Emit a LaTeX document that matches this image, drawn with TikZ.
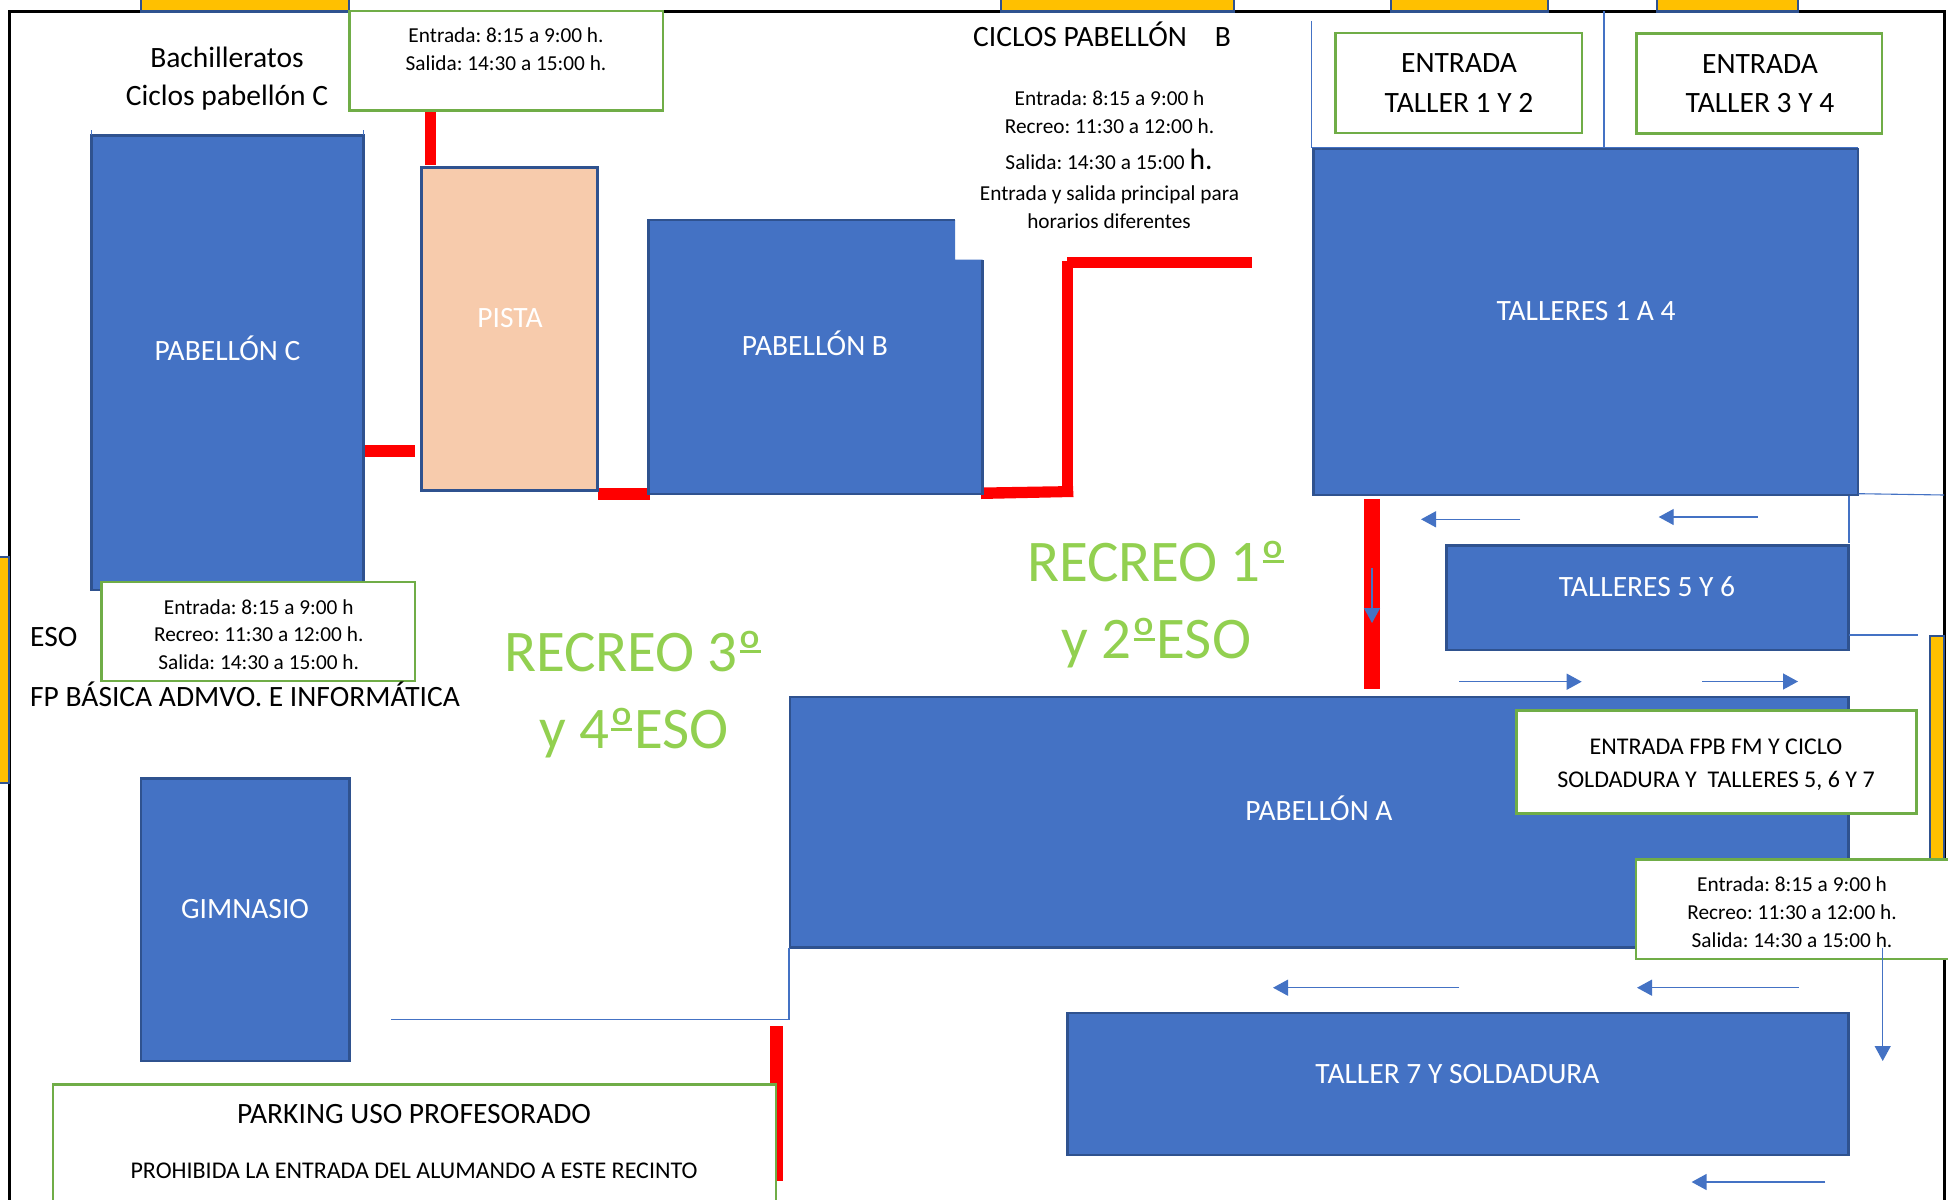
\documentclass[tikz,border=0pt]{standalone}
\usepackage{fontspec}
\setmainfont{Carlito}
\frenchspacing
\usetikzlibrary{arrows.meta}
\definecolor{bfill}{HTML}{4472C4}
\definecolor{bline}{HTML}{2F528F}
\definecolor{gline}{HTML}{70AD47}
\definecolor{gtext}{HTML}{92D050}
\definecolor{gatey}{HTML}{FFC000}
\definecolor{pist}{HTML}{F7CBAC}
\newcommand{\ordu}{\rlap{\kern0.03em\rule[0.30em]{0.36em}{0.05em}}º}
\tikzset{
  tx/.style={inner sep=0pt,anchor=base,font=\fontsize{#1}{#1}\selectfont},
  wt/.style={tx=#1,text=white},
  rc/.style={tx=59,text=gtext},
  bld/.style={fill=bfill,draw=bline,line width=2.2pt},
  pst/.style={fill=pist,draw=bline,line width=2.2pt},
  gate/.style={fill=gatey,draw=bline,line width=2.2pt},
  grn/.style={fill=white,draw=gline,line width=2.8pt},
  red/.style={fill=red,draw=none},
  thin/.style={draw=bfill,line width=1.1pt},
  arw/.style={draw=bfill,fill=bfill,line width=1.3pt,-{Triangle[length=15pt,width=16pt]}}
}
\begin{document}
\begin{tikzpicture}[x=1pt,y=-1pt]
\clip (0,0) rectangle (1948,1199);
\fill[white] (0,0) rectangle (1948,1199);
% frame
\draw[black,line width=3pt] (9,1230) -- (9,11.5) -- (1944.6,11.5) -- (1944.6,1230);
% gates
\draw[gate] (141,-5) rectangle (349,11.5);
\draw[gate] (1001,-5) rectangle (1234,11.5);
\draw[gate] (1391,-5) rectangle (1548,11.5);
\draw[gate] (1657,-5) rectangle (1798,11.5);
\draw[gate] (-5,557) rectangle (9,783);
\draw[gate] (1930,636) rectangle (1944,870);
% red paths
\fill[red] (424.5,105) rectangle (436,165);
\fill[red] (363,445) rectangle (415,457);
\fill[red] (598,488) rectangle (650,500);
\fill[red] (981,487.5) -- (1073,486) -- (1073.5,497) -- (981,499) -- cycle;
\fill[red] (1061.7,261) rectangle (1073,497);
\fill[red] (1067,257) rectangle (1252,268);
\fill[red] (1364.4,499.4) rectangle (1380,689.4);
\fill[red] (770,1026) rectangle (782.6,1181);
% buildings
\draw[bld] (91.4,135.5) rectangle (363.4,590);
\draw[thin] (91.4,130) -- (91.4,135);
\draw[thin] (363.4,130) -- (363.4,135);
\draw[pst] (421.5,167.5) rectangle (597.5,490.5);
\fill[bfill] (648.5,220) -- (955,220) -- (955,259.5) -- (982.5,259.5) -- (982.5,494) -- (648.5,494) -- cycle;
\draw[bline,line width=2.2pt] (955,220) -- (648.5,220) -- (648.5,494) -- (982.5,494) -- (982.5,259.5);
\draw[bld] (1313.5,149) rectangle (1858,495);
\draw[bld] (1446.5,545.5) rectangle (1848.5,650);
\draw[bld] (790,697) rectangle (1848.5,947.5);
\draw[bld] (1067.5,1013) rectangle (1848.5,1155);
\draw[bld] (141,778.5) rectangle (349.5,1061);
% building labels
\node[wt=29.5] (pc) at (227.5,360) {PABELLÓN C};
\node[wt=29.5] (pi) at (510,327.5) {PISTA};
\node[wt=29.5] (pb) at (815,355.5) {PABELLÓN B};
\node[wt=29.5] (t14) at (1586,320) {TALLERES 1 A 4};
\node[wt=29.5] (t56) at (1647,596) {TALLERES 5 Y 6};
\node[wt=29.5] (pa) at (1319,820.5) {PABELLÓN A};
\node[wt=29.5] (t7) at (1457.5,1083.5) {TALLER 7 Y SOLDADURA};
\node[wt=29.5] (gi) at (245,918.5) {GIMNASIO};
% thin lines
\draw[thin] (1311.4,21) -- (1311.4,147.7) -- (1858,147.7);
\draw[thin] (1604,11.5) -- (1604,147.7);
\draw[thin] (1858.6,493.7) -- (1944,495);
\draw[thin] (1849,495.6) -- (1849,543);
\draw[thin] (1849,635) -- (1918,635);
\draw[thin] (391,1019.4) -- (789,1019.4) -- (789,948);
% arrows
\draw[arw] (1520,519.3) -- (1421,519.3);
\draw[arw] (1757.6,517) -- (1658.7,517);
\draw[arw] (1372,568) -- (1372,623);
\draw[arw] (1459,681.7) -- (1581.7,681.7);
\draw[arw] (1702,681.5) -- (1798,681.5);
\draw[arw] (1459,987.7) -- (1273,987.7);
\draw[arw] (1798.5,987.7) -- (1637,987.7);
\draw[arw] (1825,1182) -- (1691.6,1182);
% green boxes
\draw[grn] (349.5,11) rectangle (663,110.5);
\draw[grn] (1335.5,33) rectangle (1582,133);
\draw[grn] (1636.5,33.5) rectangle (1882,133.5);
\draw[grn] (1516.5,710.5) rectangle (1916.5,813.5);
\draw[grn] (1636,859.5) rectangle (1960,959);
\draw[grn] (101.5,582) rectangle (415,681);
\draw[grn] (53,1084.5) rectangle (776,1230);
\draw[arw] (1882.7,947.6) -- (1882.7,1061);
% box texts
\node[tx=21.3] (a1) at (506,42.5) {Entrada: 8:15 a 9:00 h.};
\node[tx=21.3] (a2) at (506,70.5) {Salida: 14:30 a 15:00 h.};
\node[tx=29.5] (b1) at (227,67.5) {Bachilleratos};
\node[tx=29.5] (b2) at (227,105.5) {Ciclos pabellón C};
\node[tx=29.5] (c0) at (1102,47) {CICLOS PABELLÓN\hspace{0.72em} B};
\node[tx=21.3] (c1) at (1109.5,105) {Entrada: 8:15 a 9:00 h};
\node[tx=21.3] (c2) at (1109.5,133) {Recreo: 11:30 a 12:00 h.};
\node[tx=21.3] (c3) at (1109,169) {Salida: 14:30 a 15:00 {\fontsize{29.5}{29.5}\selectfont h.}};
\node[tx=21.3] (c4) at (1109.5,200.5) {Entrada y salida principal para};
\node[tx=21.3] (c5) at (1109,228) {horarios diferentes};
\node[tx=29.5] (e1) at (1459,73) {ENTRADA};
\node[tx=29.5] (e2) at (1459,112) {TALLER 1 Y 2};
\node[tx=29.5] (e3) at (1760,73.5) {ENTRADA};
\node[tx=29.5] (e4) at (1760,112) {TALLER 3 Y 4};
\node[tx=24] (f1) at (1716,754) {ENTRADA FPB FM Y CICLO};
\node[tx=24] (f2) at (1716,787.5) {SOLDADURA Y\hspace{0.23em} TALLERES 5, 6 Y 7};
\node[tx=21.3] (g1) at (1792,891.5) {Entrada: 8:15 a 9:00 h};
\node[tx=21.3] (g2) at (1792,919.5) {Recreo: 11:30 a 12:00 h.};
\node[tx=21.3] (g3) at (1792,947.5) {Salida: 14:30 a 15:00 h.};
\node[tx=21.3] (h1) at (258.7,614.5) {Entrada: 8:15 a 9:00 h};
\node[tx=21.3] (h2) at (258.7,641.5) {Recreo: 11:30 a 12:00 h.};
\node[tx=21.3] (h3) at (258.7,669.5) {Salida: 14:30 a 15:00 h.};
\node[tx=29.5,anchor=base west] (i1) at (30,646.5) {ESO};
\node[tx=29.5,anchor=base west] (i2) at (30,706.5) {FP BÁSICA ADMVO. E INFORMÁTICA};
\node[tx=29.5] (j1) at (414,1123.5) {PARKING USO PROFESORADO};
\node[tx=24] (j2) at (414,1178.5) {PROHIBIDA LA ENTRADA DEL ALUMANDO A ESTE RECINTO};
% recreo
\node[rc] (r1) at (633.5,671) {RECREO 3\ordu};
\node[rc] (r2) at (634,748.5) {y 4\ordu ESO};
\node[rc] (r3) at (1156.5,581) {RECREO 1\ordu};
\node[rc] (r4) at (1156.5,658.5) {y 2\ordu ESO};
\end{tikzpicture}
\end{document}
